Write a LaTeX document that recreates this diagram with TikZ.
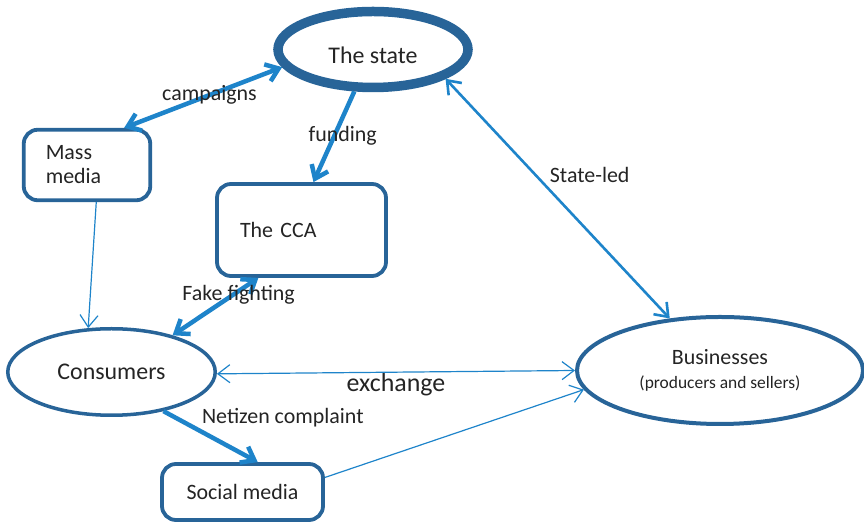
\documentclass[tikz,border=0pt]{standalone}
\usepackage{fontspec}
\setmainfont{Carlito}
\usepackage{tikz}
\usetikzlibrary{shapes.geometric,arrows.meta}
\definecolor{boxblue}{RGB}{40,100,152}
\definecolor{arrowblue}{RGB}{30,132,202}
\definecolor{textgray}{RGB}{36,36,36}

\begin{document}
\begin{tikzpicture}[x=1bp, y=1bp,
  every node/.style={text=textgray, font=\fontsize{22}{24}\selectfont},
  oval/.style={shape=ellipse, draw=boxblue, line width=3.5bp, inner sep=0pt},
  card/.style={shape=rectangle, draw=boxblue, line width=3.8bp, rounded corners=14bp, inner sep=0pt},
  one way/.style={-{Straight Barb[length=12bp,width=18bp]}},
  two way/.style={{Straight Barb[length=12bp,width=18bp]}-{Straight Barb[length=12bp,width=18bp]}},
  bold link/.style={draw=arrowblue, line width=4.5bp},
  mid link/.style={draw=arrowblue, line width=2.6bp},
  fine link/.style={draw=arrowblue, line width=1.2bp}]
\useasboundingbox (0,0) rectangle (864,526);

\node[oval, line width=9.5bp, minimum width=190bp, minimum height=76bp, text height=28bp, font=\fontsize{24}{26}\selectfont](state) at (373,476.5) {The state};
\node[card, minimum width=126.5bp, minimum height=70.5bp, text width=82.5bp, align=left](mass) at (87,361) {Mass\\media};
\node[card, minimum width=169bp, minimum height=92bp, text width=123bp, align=left](cca) at (301.5,296) {The CCA};
\node[oval, minimum width=207.5bp, minimum height=86.5bp, font=\fontsize{24}{26}\selectfont](cons) at (111.5,154) {Consumers};
\node[oval, line width=4bp, minimum width=286bp, minimum height=107bp, align=center](biz) at (720,155.5) {Businesses\\{\fontsize{17.5}{20}\selectfont (producers and sellers)}};
\node[card, minimum width=161bp, minimum height=56bp](social) at (242.5,34) {Social media};

\draw[bold link, two way] (mass.45) -- node[pos=0.54] {campaigns} (state.191);
\draw[bold link, one way] (state.246) -- node[pos=0.49, xshift=8.5bp] {funding} (cca.76);
\draw[mid link, two way] (state.338) -- node[pos=0.4, right=10bp] {State-led} (biz.134);
\draw[fine link, one way] (mass.284) -- (cons.118);
\draw[bold link, two way] (cca.228) -- node[pos=0.23, yshift=-4bp] {Fake fighting} (cons.31);
\draw[fine link, two way] (cons.359) -- node[below, inner sep=1bp, font=\fontsize{26}{30}\selectfont] {exchange} (biz.180);
\draw[bold link, one way] (cons.323) -- node[pos=0.35, above right, yshift=-4bp] {Netizen complaint} (social.63);
\draw[fine link, one way] (social.10) -- (biz.188);
\end{tikzpicture}
\end{document}
